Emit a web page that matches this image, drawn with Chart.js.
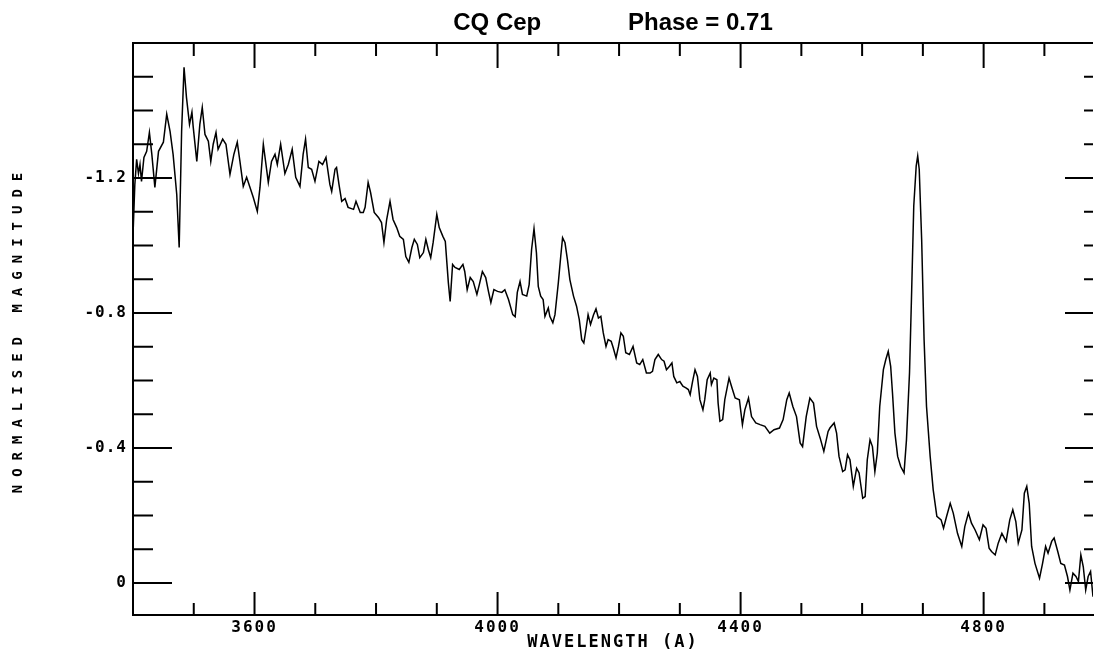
<!DOCTYPE html>
<html>
<head>
<meta charset="utf-8">
<title>CQ Cep spectrum</title>
<script src="https://cdn.jsdelivr.net/npm/chart.js@4/dist/chart.umd.min.js"></script>
<style>
  html, body { margin: 0; padding: 0; background: #fff; }
  canvas { display: block; }
</style>
</head>
<body>
<canvas id="spectrum" width="1094" height="652"></canvas>
<script>
// spectrum: wavelength (A) and normalised magnitude
const wavelength = [
  3400, 3403, 3406, 3409, 3411.5, 3414, 3418, 3422.5, 3427, 3431, 3436, 3442, 3450, 3455.5, 3461, 3466,
  3472, 3476, 3480, 3484, 3488, 3493, 3497, 3499, 3505, 3510, 3514, 3518.5, 3524, 3528, 3532, 3536.6,
  3540, 3547.6, 3553, 3559.6, 3566, 3571.6, 3576, 3581.5, 3587, 3592.6, 3598, 3604.6, 3609, 3614.5, 3622.7, 3628,
  3633.7, 3637.5, 3643, 3650, 3655.6, 3662, 3667.8, 3674.8, 3680, 3684, 3688.5, 3694, 3699.5, 3706, 3712, 3717.6,
  3724, 3727, 3732.5, 3735, 3739, 3743.5, 3749, 3754, 3763, 3767, 3774, 3779, 3782, 3787, 3791, 3797,
  3804, 3809, 3813, 3817.5, 3823, 3828, 3834, 3839, 3845, 3849, 3854, 3859, 3863, 3868, 3872, 3878,
  3882, 3886, 3890, 3894, 3900, 3904, 3910, 3914, 3919, 3922, 3926, 3930, 3937, 3943, 3946, 3950,
  3955, 3960, 3966, 3970, 3975, 3980.5, 3985, 3989, 3994, 4000, 4007, 4012, 4018, 4025, 4029, 4032.5,
  4037, 4041, 4048, 4052, 4056, 4060, 4064, 4067, 4071, 4075, 4078, 4083.5, 4086, 4091, 4094.5, 4100,
  4104, 4107, 4111, 4115, 4119, 4125, 4130, 4134.5, 4138.5, 4142, 4145.5, 4149, 4153, 4158, 4162, 4166,
  4170, 4174, 4178.5, 4182, 4187, 4190.5, 4195, 4199, 4203, 4207, 4211, 4217, 4223, 4229, 4234, 4239,
  4245, 4251, 4255, 4259, 4264.5, 4270, 4274, 4278, 4283, 4287, 4290, 4295, 4300, 4305, 4310, 4314,
  4317, 4321, 4325, 4329, 4333, 4338, 4341, 4345, 4350, 4352, 4356, 4361, 4363, 4366, 4370.5, 4374,
  4381, 4385, 4391, 4398, 4403, 4407, 4413, 4418, 4425, 4432, 4440, 4448, 4455, 4464, 4470, 4476,
  4480, 4486, 4492, 4498, 4502, 4508, 4514, 4520, 4525, 4531, 4537, 4544, 4547, 4554, 4558, 4562,
  4568, 4572, 4576, 4580, 4585.5, 4591, 4595, 4601, 4605, 4608.5, 4613, 4617, 4621, 4625, 4629, 4635,
  4639, 4643, 4647, 4650, 4654, 4658.5, 4663.5, 4669, 4673, 4678, 4681.6, 4685, 4689, 4691.5, 4694, 4698,
  4702, 4706, 4712, 4717, 4723, 4730, 4734, 4739, 4745, 4750, 4757, 4764, 4769, 4775, 4780, 4786,
  4793, 4799, 4804, 4809, 4813, 4819, 4824, 4830, 4837, 4843, 4848, 4853, 4857, 4863, 4867, 4871,
  4875, 4879, 4884.5, 4892, 4897, 4902, 4906, 4912, 4916, 4922, 4927, 4933, 4938, 4942, 4947, 4952,
  4956, 4960, 4964, 4968, 4972, 4976, 4980
];
const magnitude = [
  -1.03, -1.18, -1.255, -1.213, -1.24, -1.19, -1.261, -1.279, -1.335, -1.27, -1.172, -1.279, -1.306, -1.389, -1.338, -1.27,
  -1.151, -0.994, -1.338, -1.528, -1.439, -1.359, -1.395, -1.353, -1.249, -1.359, -1.409, -1.329, -1.309, -1.249, -1.3, -1.335,
  -1.285, -1.315, -1.3, -1.211, -1.27, -1.306, -1.249, -1.175, -1.202, -1.172, -1.142, -1.101, -1.172, -1.3, -1.187, -1.249,
  -1.27, -1.24, -1.3, -1.213, -1.24, -1.285, -1.202, -1.175, -1.27, -1.315, -1.231, -1.226, -1.19, -1.249, -1.24, -1.261,
  -1.181, -1.16, -1.226, -1.231, -1.181, -1.131, -1.139, -1.113, -1.107, -1.131, -1.098, -1.098, -1.113, -1.187, -1.157, -1.098,
  -1.083, -1.068, -1.009, -1.077, -1.131, -1.077, -1.053, -1.027, -1.018, -0.967, -0.95, -0.994, -1.018, -1.003, -0.964, -0.979,
  -1.018, -0.988, -0.964, -1.009, -1.092, -1.053, -1.027, -1.012, -0.89, -0.834, -0.944, -0.935, -0.929, -0.944, -0.923, -0.869,
  -0.905, -0.893, -0.855, -0.884, -0.923, -0.905, -0.864, -0.831, -0.869, -0.864, -0.861, -0.869, -0.84, -0.795, -0.789, -0.861,
  -0.893, -0.855, -0.85, -0.884, -0.988, -1.05, -0.978, -0.879, -0.85, -0.84, -0.79, -0.815, -0.79, -0.771, -0.795, -0.889,
  -0.968, -1.023, -1.008, -0.958, -0.899, -0.85, -0.82, -0.78, -0.721, -0.711, -0.751, -0.795, -0.766, -0.795, -0.812, -0.785,
  -0.79, -0.741, -0.701, -0.721, -0.716, -0.696, -0.667, -0.701, -0.741, -0.731, -0.682, -0.677, -0.701, -0.652, -0.647, -0.662,
  -0.622, -0.622, -0.627, -0.662, -0.677, -0.662, -0.657, -0.632, -0.642, -0.652, -0.612, -0.593, -0.597, -0.583, -0.578, -0.573,
  -0.558, -0.597, -0.632, -0.612, -0.543, -0.513, -0.543, -0.602, -0.622, -0.588, -0.607, -0.602, -0.533, -0.479, -0.484, -0.543,
  -0.607, -0.583, -0.548, -0.543, -0.469, -0.513, -0.548, -0.493, -0.474, -0.469, -0.464, -0.444, -0.454, -0.459, -0.484, -0.543,
  -0.563, -0.523, -0.493, -0.415, -0.404, -0.493, -0.548, -0.533, -0.464, -0.429, -0.39, -0.449, -0.459, -0.474, -0.444, -0.375,
  -0.33, -0.335, -0.38, -0.365, -0.286, -0.34, -0.326, -0.251, -0.256, -0.365, -0.424, -0.404, -0.33, -0.385, -0.523, -0.632,
  -0.662, -0.686, -0.642, -0.563, -0.444, -0.375, -0.345, -0.326, -0.424, -0.622, -0.869, -1.117, -1.235, -1.265, -1.226, -1.018,
  -0.721, -0.523, -0.375, -0.276, -0.197, -0.187, -0.162, -0.197, -0.236, -0.207, -0.147, -0.108, -0.167, -0.207, -0.177, -0.157,
  -0.128, -0.172, -0.162, -0.103, -0.093, -0.083, -0.118, -0.147, -0.123, -0.187, -0.217, -0.182, -0.118, -0.157, -0.266, -0.286,
  -0.236, -0.108, -0.058, -0.014, -0.058, -0.108, -0.088, -0.123, -0.133, -0.093, -0.058, -0.053, -0.019, 0.021, -0.029, -0.019,
  -0.004, -0.083, -0.048, 0.021, -0.019, -0.034, 0.041
];
const xTickLabels = [3600, 4000, 4400, 4800];
const yTickLabels = [-1.2, -0.8, -0.4, 0];

const monoFont = "'DejaVu Sans Mono', 'Liberation Mono', monospace";

// canvas letterSpacing only for one scale's text
function letterSpace(scale, method, spacing) {
  const key = '_spaced_' + method;
  if (scale[key]) return;
  const original = scale[method];
  scale[method] = function () {
    this.ctx.save();
    this.ctx.letterSpacing = spacing;
    original.apply(this, arguments);
    this.ctx.restore();
  };
  scale[key] = true;
}

// inward tick marks on all four sides, plus the top frame line
const frameTicks = {
  id: 'frameTicks',
  afterDraw(chart) {
    const { ctx, chartArea: a, scales: { x, y } } = chart;
    ctx.save();
    ctx.strokeStyle = '#000';
    ctx.lineWidth = 2;
    ctx.beginPath();
    ctx.moveTo(a.left, a.top);
    ctx.lineTo(a.right, a.top);
    for (let k = 35; k <= 49; k++) {
      const px = x.getPixelForValue(k * 100);
      const major = k % 4 === 0;
      ctx.moveTo(px, a.bottom);
      ctx.lineTo(px, a.bottom - (major ? 23 : 12));
      ctx.moveTo(px, a.top);
      ctx.lineTo(px, a.top + (major ? 25 : 13));
    }
    for (let k = -15; k <= 0; k++) {
      const py = y.getPixelForValue(k / 10);
      const major = k % 4 === 0;
      ctx.moveTo(a.left, py);
      ctx.lineTo(a.left + (major ? 39 : 20), py);
      ctx.moveTo(a.right, py);
      ctx.lineTo(a.right - (major ? 28 : 9), py);
    }
    ctx.stroke();
    ctx.restore();
  }
};

const ctx = document.getElementById('spectrum').getContext('2d');
const spectrumChart = new Chart(ctx, {
  type: 'line',
  data: {
    datasets: [{
      data: wavelength.map((w, i) => ({ x: w, y: magnitude[i] })),
      borderColor: '#000',
      borderWidth: 1.5,
      pointRadius: 0,
      tension: 0,
      fill: false
    }]
  },
  options: {
    responsive: false,
    animation: false,
    layout: { padding: { left: 0, right: 1, top: 0, bottom: 0 } },
    plugins: {
      legend: { display: false },
      tooltip: { enabled: false },
      title: {
        display: true,
        fullSize: false,
        text: 'CQ Cep             Phase = 0.71',
        color: '#000',
        font: { family: "'Liberation Sans', Arial, sans-serif", size: 24, weight: 'bold', lineHeight: 1 },
        padding: { top: 11, bottom: 8 }
      }
    },
    scales: {
      x: {
        type: 'linear',
        min: 3400,
        max: 4980,
        grid: { display: false, drawTicks: false },
        border: { display: true, color: '#000', width: 2 },
        afterBuildTicks(scale) { scale.ticks = xTickLabels.map(v => ({ value: v })); },
        afterFit(scale) {
          scale.height = 37;
          letterSpace(scale, 'drawLabels', '2px');
          letterSpace(scale, 'drawTitle', '2px');
        },
        ticks: {
          color: '#000',
          padding: 3,
          maxRotation: 0,
          font: { family: monoFont, size: 16, weight: 'bold' },
          callback: v => String(v)
        },
        title: {
          display: true,
          text: 'WAVELENGTH (A)',
          color: '#000',
          padding: { top: 0, bottom: 0 },
          font: { family: monoFont, size: 17, weight: 'bold', lineHeight: 1.1 }
        }
      },
      y: {
        type: 'linear',
        min: -1.6,
        max: 0.095,
        reverse: true,
        grid: { display: false, drawTicks: false },
        border: { display: true, color: '#000', width: 2 },
        afterBuildTicks(scale) { scale.ticks = yTickLabels.map(v => ({ value: v })); },
        afterFit(scale) {
          scale.width = 133;
          letterSpace(scale, 'drawLabels', '1px');
          letterSpace(scale, 'drawTitle', '8px');
        },
        ticks: {
          color: '#000',
          padding: 6,
          font: { family: monoFont, size: 16, weight: 'bold' },
          callback: v => (v === 0 ? '0' : v.toFixed(1))
        },
        title: {
          display: true,
          text: 'NORMALISED MAGNITUDE',
          color: '#000',
          padding: { top: 10, bottom: 0 },
          font: { family: monoFont, size: 14, weight: 'bold', lineHeight: 1.2 }
        }
      }
    }
  },
  plugins: [frameTicks]
});
</script>
</body>
</html>
